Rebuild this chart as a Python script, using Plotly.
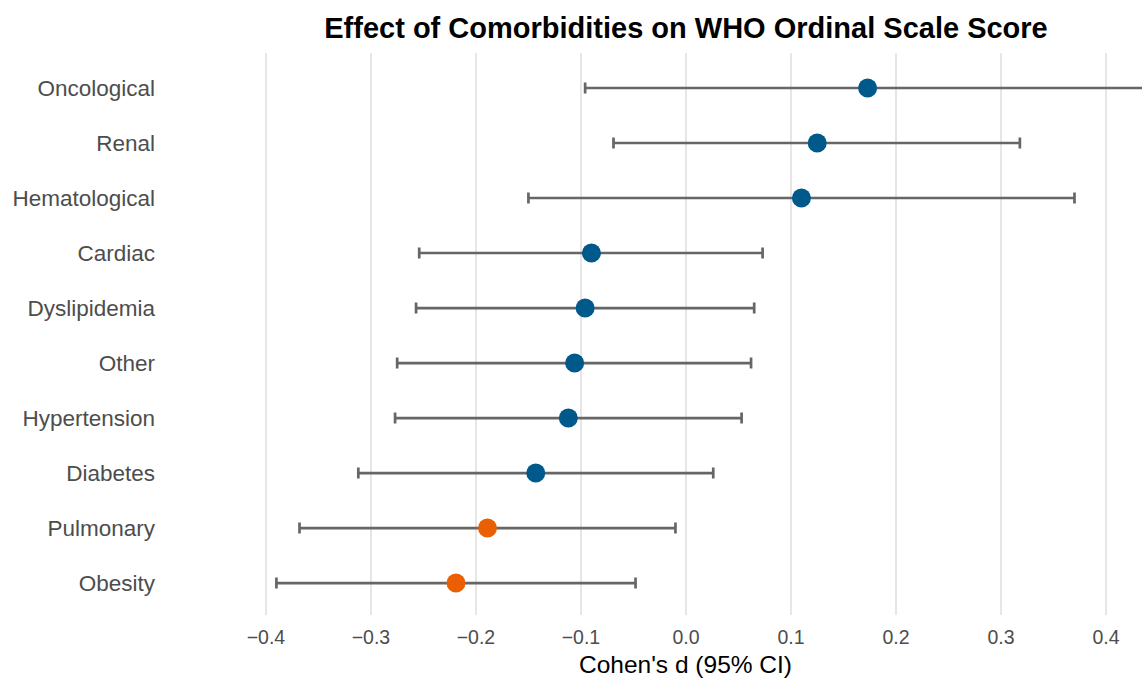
import plotly.graph_objects as go

categories = ["Oncological", "Renal", "Hematological", "Cardiac", "Dyslipidemia",
              "Other", "Hypertension", "Diabetes", "Pulmonary", "Obesity"]
cohen_d = [0.173, 0.125, 0.110, -0.090, -0.096, -0.106, -0.112, -0.143, -0.189, -0.219]
ci_low = [-0.096, -0.069, -0.150, -0.254, -0.257, -0.275, -0.277, -0.312, -0.368, -0.390]
ci_high = [0.46, 0.318, 0.370, 0.073, 0.065, 0.062, 0.053, 0.026, -0.010, -0.048]
x_ticks = [-0.4, -0.3, -0.2, -0.1, 0.0, 0.1, 0.2, 0.3, 0.4]

BLUE = "#00598B"
ORANGE = "#E95F02"
colors = [ORANGE if hi < 0 else BLUE for hi in ci_high]

W, H = 1142, 678
L, R, T, B = 163, 0, 53, 63

fig = go.Figure()
fig.add_trace(go.Scatter(
    x=cohen_d, y=categories, mode="markers",
    marker=dict(size=19, color=colors, line=dict(width=0)),
    error_x=dict(type="data", symmetric=False,
                 array=[h - m for h, m in zip(ci_high, cohen_d)],
                 arrayminus=[m - l for m, l in zip(cohen_d, ci_low)],
                 color="#666666", thickness=2.7, width=5.5),
    showlegend=False, hoverinfo="x+y",
))

fig.add_shape(type="line", x0=0, x1=0, xref="x", y0=0, y1=1, yref="paper",
              line=dict(color="#999999", width=1.5, dash="5px,3px"), layer="below")

fig.update_layout(
    width=W, height=H,
    margin=dict(l=L, r=R, t=T, b=B, pad=0),
    paper_bgcolor="white", plot_bgcolor="white",
    font=dict(family="Liberation Sans, Arial, sans-serif"),
    title=dict(text="<b>Effect of Comorbidities on WHO Ordinal Scale Score</b>",
               x=686 / W, xref="container", xanchor="center",
               y=1 - 28 / H, yref="container", yanchor="middle",
               font=dict(size=29, color="black")),
)
fig.update_xaxes(range=[-0.498, 0.4343], tickvals=x_ticks,
                 ticktext=[f"{v:.1f}".replace("-", "\u2212") for v in x_ticks],
                 showgrid=True, gridcolor="#E6E6E6", gridwidth=1.5,
                 zeroline=False, showline=False, ticks="", ticklabelstandoff=8,
                 tickfont=dict(size=19.5, color="#4D4D4D"))
fig.update_yaxes(categoryorder="array", categoryarray=categories,
                 range=[9.58, -0.636], showgrid=False, zeroline=False,
                 showline=False, ticks="", ticklabelstandoff=7,
                 tickfont=dict(size=22.5, color="#4D4D4D"))

fig.add_annotation(text="Cohen's d (95% CI)",
                   x=(685 - L) / (W - L - R), xref="paper",
                   y=(H - B - 664) / (H - T - B), yref="paper", showarrow=False,
                   xanchor="center", yanchor="middle",
                   font=dict(size=24.5, color="black"))

fig.write_html("out.html")
